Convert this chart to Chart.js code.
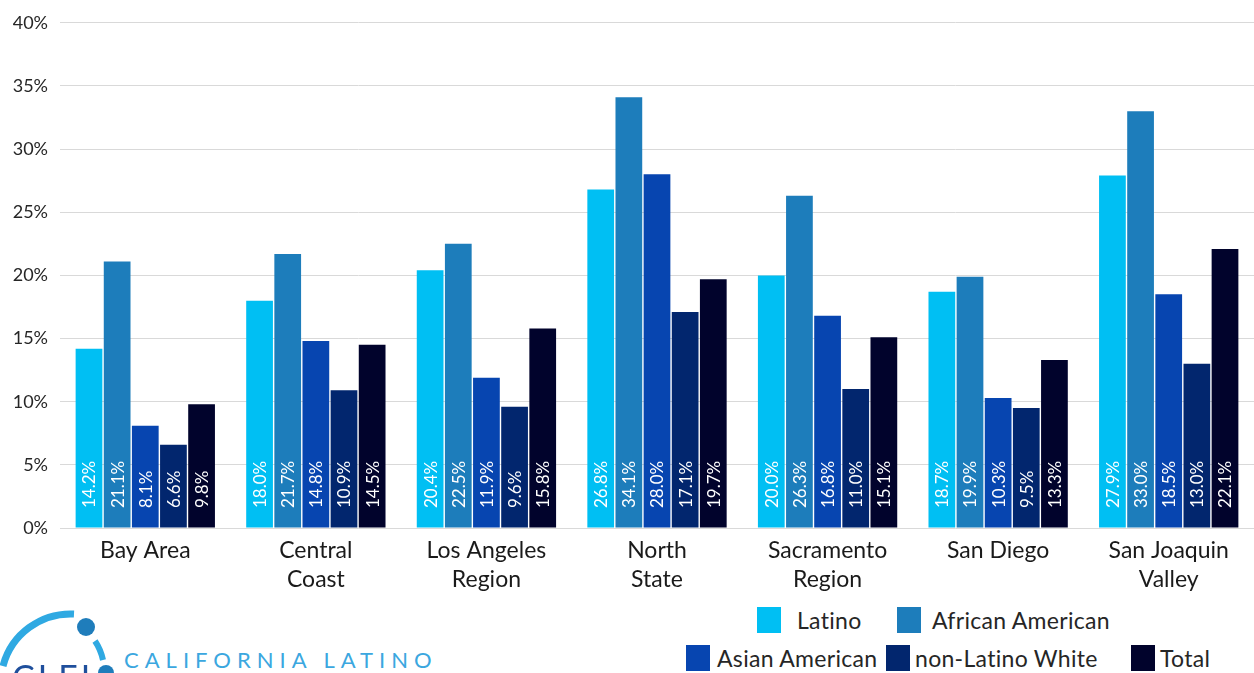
<!DOCTYPE html>
<html>
<head>
<meta charset="utf-8">
<script src="https://cdn.jsdelivr.net/npm/chart.js@4.4.1/dist/chart.umd.min.js"></script>
<style>
  html, body { margin: 0; padding: 0; background: #fff; overflow: hidden; }
  #wrap { position: relative; width: 1254px; height: 673px; font-family: Lato, "Noto Sans", sans-serif; }
  #chartBox { position: absolute; left: 0; top: 0; width: 1254px; height: 600px; }
  .lg { position: absolute; font-size: 23px; letter-spacing: 0.3px; color: #262626; line-height: 26px; white-space: nowrap; }
  .sw { position: absolute; width: 24px; height: 26px; }
  #logoText { position: absolute; left: 124px; top: 646px; font-size: 22px; letter-spacing: 6px; color: #3ba7df; font-family: Lato, sans-serif; }
</style>
</head>
<body>
<div id="wrap">
  <div id="chartBox"><canvas id="chart"></canvas></div>
  <div id="legend"></div>
  <svg width="124" height="673" style="position:absolute;left:0;top:0" viewBox="0 0 124 673">
    <path d="M 3 666 A 70 70 0 0 1 74 614" fill="none" stroke="#2fa9e2" stroke-width="7"/>
    <circle cx="86" cy="627" r="9" fill="#1f7dbb"/>
    <path d="M 95 641 A 55 55 0 0 1 103 660" fill="none" stroke="#2fa9e2" stroke-width="6"/>
    <circle cx="106" cy="673" r="8" fill="#1f7dbb"/>
    <text x="12" y="690" font-size="34" fill="#1f4f9c" font-family="Lato, sans-serif" letter-spacing="3">CLEI</text>
  </svg>
  <div id="logoText">CALIFORNIA LATINO</div>
</div>
<script>
// --- Data ---
const regions = [
    ['Bay Area'],
    ['Central', 'Coast'],
    ['Los Angeles', 'Region'],
    ['North', 'State'],
    ['Sacramento', 'Region'],
    ['San Diego'],
    ['San Joaquin', 'Valley']
];
const latino = [14.2, 18.0, 20.4, 26.8, 20.0, 18.7, 27.9];
const africanAmerican = [21.1, 21.7, 22.5, 34.1, 26.3, 19.9, 33.0];
const asianAmerican = [8.1, 14.8, 11.9, 28.0, 16.8, 10.3, 18.5];
const nonLatinoWhite = [6.6, 10.9, 9.6, 17.1, 11.0, 9.5, 13.0];
const total = [9.8, 14.5, 15.8, 19.7, 15.1, 13.3, 22.1];
const yTicks = [0, 5, 10, 15, 20, 25, 30, 35, 40];

const seriesNames = ['Latino', 'African American', 'Asian American', 'non-Latino White', 'Total'];
const seriesValues = [latino, africanAmerican, asianAmerican, nonLatinoWhite, total];
const seriesColors = ['#00bff3', '#1d7dbb', '#0745b0', '#02266e', '#01032c'];

const FONT = 'Lato, "Noto Sans", sans-serif';

// --- Value labels inside the bars ---
const barLabels = {
    id: 'barLabels',
    afterDatasetsDraw(chart) {
        const ctx = chart.ctx;
        const base = chart.scales.y.getPixelForValue(0);
        ctx.save();
        ctx.fillStyle = '#ffffff';
        ctx.font = '17px ' + FONT;
        ctx.textAlign = 'left';
        ctx.textBaseline = 'middle';
        chart.data.datasets.forEach((ds, i) => {
            chart.getDatasetMeta(i).data.forEach((bar, j) => {
                ctx.save();
                ctx.translate(bar.x, base - 20);
                ctx.rotate(-Math.PI / 2);
                ctx.fillText(ds.data[j].toFixed(1) + '%', 0, 1);
                ctx.restore();
            });
        });
        ctx.restore();
    }
};

new Chart(document.getElementById('chart'), {
    type: 'bar',
    data: {
        labels: regions,
        datasets: seriesNames.map((name, i) => ({
            label: name,
            data: seriesValues[i],
            backgroundColor: seriesColors[i],
            categoryPercentage: 0.825,
            barPercentage: 0.95
        }))
    },
    options: {
        responsive: true,
        maintainAspectRatio: false,
        animation: false,
        layout: { padding: { top: 6, right: 0, left: 0, bottom: 0 } },
        plugins: {
            legend: { display: false },
            tooltip: { enabled: false }
        },
        scales: {
            y: {
                min: 0,
                max: 40,
                afterFit: s => { s.width = 60; },
                afterBuildTicks: s => { s.ticks = yTicks.map(v => ({ value: v })); },
                border: { display: false },
                grid: { color: '#d9d9d9', lineWidth: 1, drawTicks: false },
                ticks: {
                    padding: 12,
                    color: '#262626',
                    font: { family: FONT, size: 18 },
                    callback: v => v + '%'
                }
            },
            x: {
                afterFit: s => { s.height = 72; },
                grid: { display: false },
                border: { display: false },
                ticks: {
                    padding: 0,
                    color: '#1a1a1a',
                    maxRotation: 0,
                    autoSkip: false,
                    font: { family: FONT, size: 23, lineHeight: 1.27 }
                }
            }
        }
    },
    plugins: [barLabels]
});

// --- Legend (two rows, as in the source) ---
const legendPos = [
    { box: [757, 607], text: 797 },
    { box: [897, 607], text: 932 },
    { box: [686, 645], text: 717 },
    { box: [886, 645], text: 915 },
    { box: [1131, 645], text: 1160 }
];
const legendEl = document.getElementById('legend');
seriesNames.forEach((name, i) => {
    const p = legendPos[i];
    const sw = document.createElement('div');
    sw.className = 'sw';
    sw.style.left = p.box[0] + 'px';
    sw.style.top = p.box[1] + 'px';
    sw.style.background = seriesColors[i];
    legendEl.appendChild(sw);
    const t = document.createElement('div');
    t.className = 'lg';
    t.style.left = p.text + 'px';
    t.style.top = p.box[1] + 'px';
    t.textContent = name;
    legendEl.appendChild(t);
});
</script>
</body>
</html>
